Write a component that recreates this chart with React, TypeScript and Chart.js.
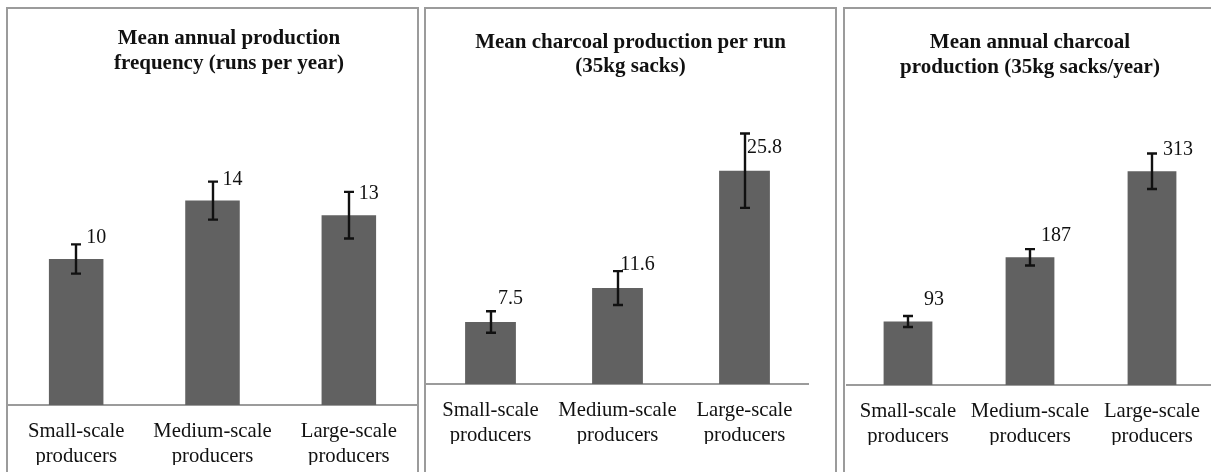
import React, { useEffect, useRef } from "react";
import { Chart, registerables } from "chart.js";

Chart.register(...registerables);

// ---------- data ----------
const categories = [
  ["Small-scale", "producers"],
  ["Medium-scale", "producers"],
  ["Large-scale", "producers"],
];

const titleRuns = ["Mean annual production", "frequency (runs per year)"];
const runsPerYear = [10, 14, 13];
const runsPerYearErr = [1.0, 1.3, 1.6];

const titlePerRun = ["Mean charcoal production per run", "(35kg sacks)"];
const sacksPerRun = [7.5, 11.6, 25.8];
const sacksPerRunErr = [1.3, 2.05, 4.5];

const titleAnnual = ["Mean annual charcoal", "production (35kg sacks/year)"];
const sacksPerYear = [93, 187, 313];
const sacksPerYearErr = [8, 12, 26];

// ---------- styles ----------
const FONT = '"Liberation Serif", "Times New Roman", serif';
const BAR = "#616161";
const INK = "#111111";
const FRAME = "#9b9b9b";

type Panel = {
  title: string[];
  values: number[];
  errors: number[];
  yMax: number;
  box: { left: number; width: number; right: boolean };
  canvas: { left: number; width: number };
  pad: { top: number; bottom: number; left: number; right: number };
  titleDx: number;
  titleY: number[];
  dx: number;
  dy: number;
};

const panels: Panel[] = [
  {
    title: titleRuns,
    values: runsPerYear,
    errors: runsPerYearErr,
    yMax: 20,
    box: { left: 6, width: 413, right: true },
    canvas: { left: 8, width: 409 },
    pad: { top: 104, bottom: 7, left: 0, right: 0 },
    titleDx: 16.5,
    titleY: [30, 55],
    dx: 20,
    dy: -21,
  },
  {
    title: titlePerRun,
    values: sacksPerRun,
    errors: sacksPerRunErr,
    yMax: 30,
    box: { left: 424, width: 413, right: true },
    canvas: { left: 426, width: 409 },
    pad: { top: 127, bottom: 28, left: 1, right: 27 },
    titleDx: 0,
    titleY: [34, 58],
    dx: 20,
    dy: -23,
  },
  {
    title: titleAnnual,
    values: sacksPerYear,
    errors: sacksPerYearErr,
    yMax: 350,
    box: { left: 843, width: 380, right: false },
    canvas: { left: 845, width: 370 },
    pad: { top: 137, bottom: 27, left: 2, right: 2 },
    titleDx: 0,
    titleY: [34, 59],
    dx: 26,
    dy: -22,
  },
];

function makePlugin(p: Panel) {
  return {
    id: "annotate",
    afterDatasetsDraw(chart: any) {
      const ctx = chart.ctx as CanvasRenderingContext2D;
      const meta = chart.getDatasetMeta(0);
      const ys = chart.scales.y;
      const data = chart.data.datasets[0].data as number[];
      ctx.save();
      ctx.strokeStyle = INK;
      ctx.lineWidth = 2.4;
      ctx.fillStyle = INK;
      meta.data.forEach((bar: any, i: number) => {
        const v = data[i];
        const e = p.errors[i];
        const x = Math.round(bar.x);
        const yT = ys.getPixelForValue(v + e);
        const yB = ys.getPixelForValue(v - e);
        ctx.beginPath();
        ctx.moveTo(x, yT);
        ctx.lineTo(x, yB);
        ctx.moveTo(x - 5, yT);
        ctx.lineTo(x + 5, yT);
        ctx.moveTo(x - 5, yB);
        ctx.lineTo(x + 5, yB);
        ctx.stroke();
        ctx.font = `20px ${FONT}`;
        ctx.textAlign = "center";
        ctx.textBaseline = "middle";
        ctx.fillText(String(v), bar.x + p.dx, bar.y + p.dy);
      });
      ctx.font = `bold 21px ${FONT}`;
      ctx.textAlign = "center";
      ctx.textBaseline = "middle";
      p.title.forEach((line, k) => {
        ctx.fillText(line, chart.width / 2 + p.titleDx, p.titleY[k]);
      });
      ctx.restore();
    },
  };
}

function PanelChart({ p }: { p: Panel }) {
  const ref = useRef<HTMLCanvasElement | null>(null);
  useEffect(() => {
    if (!ref.current) return;
    const chart = new Chart(ref.current, {
      type: "bar",
      data: {
        labels: categories,
        datasets: [
          {
            data: p.values,
            backgroundColor: BAR,
            borderWidth: 0,
            barPercentage: 0.4,
            categoryPercentage: 1,
          },
        ],
      },
      options: {
        animation: false,
        responsive: true,
        maintainAspectRatio: false,
        devicePixelRatio: 1,
        layout: { padding: p.pad },
        plugins: {
          legend: { display: false },
          tooltip: { enabled: false },
          title: { display: false },
        },
        scales: {
          x: {
            grid: { display: true, drawOnChartArea: false, drawTicks: false },
            border: { display: true, color: FRAME, width: 2 },
            ticks: {
              color: INK,
              padding: 14,
              font: { family: FONT, size: 20.7, lineHeight: 1.2 },
              maxRotation: 0,
              autoSkip: false,
            },
            afterFit: (scale: any) => {
              scale.height = 60;
            },
          },
          y: {
            display: false,
            min: 0,
            max: p.yMax,
          },
        },
      },
      plugins: [makePlugin(p)],
    } as any);
    return () => chart.destroy();
  }, [p]);

  return (
    <>
      <div
        style={{
          position: "absolute",
          left: p.box.left,
          top: 7,
          width: p.box.width,
          height: 480,
          boxSizing: "border-box",
          borderTop: `2px solid ${FRAME}`,
          borderLeft: `2px solid ${FRAME}`,
          borderRight: p.box.right ? `2px solid ${FRAME}` : "none",
        }}
      />
      <div
        style={{
          position: "absolute",
          left: p.canvas.left,
          top: 9,
          width: p.canvas.width,
          height: 463,
        }}
      >
        <canvas ref={ref} />
      </div>
    </>
  );
}

export default function App() {
  return (
    <div
      style={{
        position: "fixed",
        left: 0,
        top: 0,
        width: 1211,
        height: 472,
        overflow: "hidden",
        background: "#ffffff",
      }}
    >
      {panels.map((p, i) => (
        <PanelChart key={i} p={p} />
      ))}
    </div>
  );
}
